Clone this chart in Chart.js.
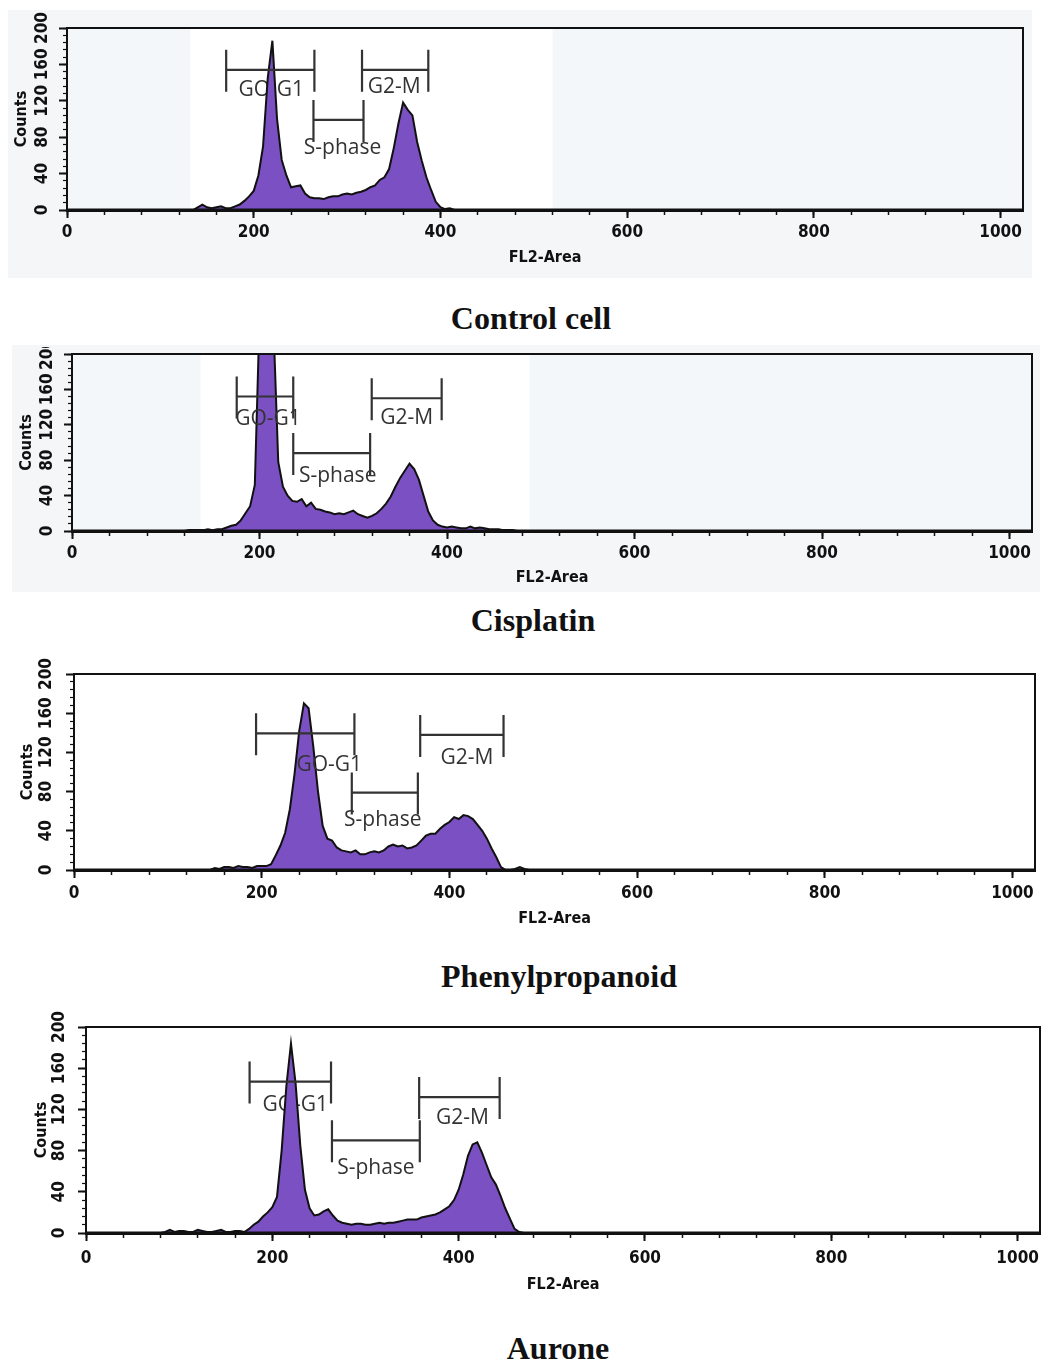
<!DOCTYPE html>
<html>
<head>
<meta charset="utf-8">
<script src="https://cdn.jsdelivr.net/npm/chart.js@4.4.1/dist/chart.umd.min.js"></script>
<style>
html,body{margin:0;padding:0;background:#fff;}
body{width:1042px;height:1360px;position:relative;overflow:hidden;}
.bg{position:absolute;background:#f4f6f8;}
canvas{position:absolute;left:0;}
.ttl{position:absolute;font-family:'Liberation Serif','Times New Roman',serif;font-weight:bold;font-size:32px;color:#111;white-space:nowrap;transform:translate(-50%,-50%);line-height:1;}
</style>
</head>
<body>
<div class="bg" style="left:8px;top:10px;width:1024px;height:268px"></div>
<div class="bg" style="left:12px;top:345px;width:1028px;height:247px"></div>
<canvas id="c1" width="1042" height="290" style="top:0px"></canvas>
<canvas id="c2" width="1042" height="253" style="top:347px"></canvas>
<canvas id="c3" width="1042" height="300" style="top:640px"></canvas>
<canvas id="c4" width="1042" height="305" style="top:995px"></canvas>
<div class="ttl" id="t1" style="left:531px;top:318px"></div>
<div class="ttl" id="t2" style="left:533px;top:620px"></div>
<div class="ttl" id="t3" style="left:559px;top:976px"></div>
<div class="ttl" id="t4" style="left:558px;top:1348px"></div>
<script>
// ---- data ----
const channels = [
  80,85,90,95,100,105,110,115,120,125,130,135,140,145,150,155,160,
  165,170,175,180,185,190,195,200,205,210,215,220,225,230,235,240,245,
  250,255,260,265,270,275,280,285,290,295,300,305,310,315,320,325,330,
  335,340,345,350,355,360,365,370,375,380,385,390,395,400,405,410,415,
  420,425,430,435,440,445,450,455,460,465,470,475,480,485,490,495,500
];
const controlCounts = [
  0,0,0,0,0,0,0,0,0,0,0,0,3,6,3,2,3,
  4,2,2,4,6,10,15,21,38,70,145,186,100,55,38,25,26,
  27,18,14,13,13,12,14,15,15,17,18,17,19,20,22,25,27,
  33,36,45,68,95,118,110,104,75,54,36,22,9,3,1,2,0,
  0,0,0,0,0,0,0,0,0,0,0,0,0,0,0,0,0
];
const cisplatinCounts = [
  0,0,0,0,0,0,0,0,0,1,1,1,1,2,1,2,2,
  4,6,7,12,20,28,52,240,320,300,230,78,50,40,34,33,36,
  28,32,25,24,22,21,19,20,19,21,23,19,17,15,17,20,25,
  31,39,50,60,68,76,70,58,40,22,12,7,5,4,5,4,3,
  3,5,3,4,3,2,2,2,1,1,1,0,0,0,0,0,0
];
const phenylpropanoidCounts = [
  0,0,0,0,0,0,0,0,0,0,0,0,0,0,2,1,3,
  3,2,4,3,3,2,4,4,4,6,15,25,38,62,98,142,170,
  165,126,80,45,32,30,23,20,19,18,20,16,16,18,19,18,20,
  24,26,24,25,22,23,25,30,35,37,37,42,46,49,54,52,56,
  55,52,46,40,32,22,13,3,0,0,1,3,1,0,0,0,0
];
const auroneCounts = [
  0,1,3,1,2,2,1,1,3,2,1,1,2,3,1,1,2,
  2,1,4,8,11,16,20,25,35,80,142,184,145,85,42,24,17,
  18,21,23,17,12,10,9,8,9,9,8,8,9,10,9,10,10,
  11,12,13,13,13,15,16,17,18,20,23,26,32,42,57,75,86,
  88,78,66,54,47,36,24,14,4,1,0,0,0,0,0,0,0
];
const xTickValues = [0, 200, 400, 600, 800, 1000];
const yTickValues = [0, 40, 80, 120, 160, 200];
const gateNames = ['GO-G1', 'S-phase', 'G2-M'];
// gates: [start channel, end channel, level in counts]
const controlGates = [[170.5, 265, 154], [264, 317.6, 99], [316, 387, 154]];
const cisplatinGates = [[175.7, 236, 152], [236, 318, 88], [319.7, 394.3, 150]];
const phenylpropanoidGates = [[194, 298.8, 139.5], [296, 366.4, 79], [368.9, 457.7, 137.8]];
const auroneGates = [[175.6, 263, 147], [264, 358.3, 90], [357.6, 444, 132]];
const panelTitles = ['Control cell', 'Cisplatin', 'Phenylpropanoid', 'Aurone'];

// ---- layout / style ----
const panels = [
  {id:'c1', t:'t1', counts:controlCounts, gates:controlGates, title:panelTitles[0],
   pad:{left:5,right:19,top:28,bottom:23}, yW:62, xH:57, yTitlePad:7, yTickPad:0, xTickPad:4,
   band:[132,520], labelOff:[[1,20],[4,28],[-1,17]], labelsOnTop:false},
  {id:'c2', t:'t2', counts:cisplatinCounts, gates:cisplatinGates, title:panelTitles[1],
   pad:{left:10,right:10,top:7,bottom:13}, yW:62, xH:56, yTitlePad:7, yTickPad:0, xTickPad:4,
   band:[137,488], labelOff:[[3,23],[6,23],[0,20]], labelsOnTop:true},
  {id:'c3', t:'t3', counts:phenylpropanoidCounts, gates:phenylpropanoidGates, title:panelTitles[2],
   pad:{left:12,right:7,top:34,bottom:12}, yW:62, xH:58, yTitlePad:6, yTickPad:3, xTickPad:5,
   band:null, labelOff:[[24,32],[-2,27],[5,23]], labelsOnTop:true},
  {id:'c4', t:'t4', counts:auroneCounts, gates:auroneGates, title:panelTitles[3],
   pad:{left:26,right:2,top:32,bottom:6}, yW:60, xH:61, yTitlePad:6, yTickPad:2, xTickPad:7,
   band:null, labelOff:[[5,23],[0,28],[3,21]], labelsOnTop:false}
];

const FAM = "'DejaVu Sans Condensed','DejaVu Sans',sans-serif";
const tickFont = {family:FAM, size:17, weight:'bold'};
const axisTitleFont = {family:FAM, size:16, weight:'bold'};
const INK = '#111';

function zeroPad(s){ s.paddingLeft=0; s.paddingRight=0; s.paddingTop=0; s.paddingBottom=0; }

function bgPlugin(band){
  return {id:'bgband', beforeDraw(chart){
    if(!band) return;
    const {ctx, chartArea:a, scales:{x}} = chart;
    ctx.save();
    ctx.fillStyle = '#f4f7f9';
    ctx.fillRect(a.left, a.top, a.width, a.height);
    const x1 = x.getPixelForValue(band[0]), x2 = x.getPixelForValue(band[1]);
    ctx.fillStyle = '#ffffff';
    ctx.fillRect(x1, a.top, x2 - x1, a.height);
    ctx.restore();
  }};
}

function gatePlugin(gates, offs, onTop){
  function drawLabels(chart){
    const {ctx, scales:{x, y}} = chart;
    ctx.save();
    ctx.font = "21px 'Open Sans', sans-serif";
    ctx.fillStyle = '#333';
    ctx.textAlign = 'center';
    ctx.textBaseline = 'middle';
    gates.forEach((g, i) => {
      const x1 = x.getPixelForValue(g[0]), x2 = x.getPixelForValue(g[1]);
      const yy = y.getPixelForValue(g[2]);
      ctx.fillText(gateNames[i], (x1 + x2) / 2 + offs[i][0], yy + offs[i][1]);
    });
    ctx.restore();
  }
  return {
    id:'gates',
    beforeDatasetsDraw(chart){ if (!onTop) drawLabels(chart); },
    afterDatasetsDraw(chart){
      if (onTop) drawLabels(chart);
      const {ctx, scales:{x, y}} = chart;
      ctx.save();
      ctx.strokeStyle = '#333';
      ctx.lineWidth = 2.2;
      gates.forEach(g => {
        const x1 = x.getPixelForValue(g[0]), x2 = x.getPixelForValue(g[1]);
        const yy = y.getPixelForValue(g[2]);
        ctx.beginPath();
        ctx.moveTo(x1, yy); ctx.lineTo(x2, yy);
        ctx.moveTo(x1, yy - 20); ctx.lineTo(x1, yy + 22);
        ctx.moveTo(x2, yy - 20); ctx.lineTo(x2, yy + 22);
        ctx.stroke();
      });
      ctx.restore();
    }
  };
}

const framePlugin = {id:'frame', afterDraw(chart){
  const {ctx, chartArea:a} = chart;
  ctx.save();
  ctx.strokeStyle = INK;
  ctx.lineWidth = 2;
  ctx.strokeRect(a.left, a.top, a.right - a.left, a.bottom - a.top);
  ctx.beginPath();
  ctx.lineWidth = 3;
  ctx.moveTo(a.left, a.bottom); ctx.lineTo(a.right, a.bottom);
  ctx.stroke();
  ctx.restore();
}};

panels.forEach(p => {
  document.getElementById(p.t).textContent = p.title;
  new Chart(document.getElementById(p.id), {
    type:'line',
    data:{datasets:[{
      data: channels.map((c, i) => ({x:c, y:p.counts[i]})),
      fill:'origin',
      backgroundColor:'#7b50c2',
      borderColor:INK,
      borderWidth:2,
      pointRadius:0,
      tension:0
    }]},
    options:{
      responsive:false, animation:false, devicePixelRatio:1, events:[],
      layout:{padding:p.pad},
      plugins:{legend:{display:false}, tooltip:{enabled:false}},
      scales:{
        x:{type:'linear', position:'bottom', weight:1, min:0, max:1024,
          afterBuildTicks: s => { s.ticks = xTickValues.map(v => ({value:v})); },
          afterFit: s => { s.height = p.xH; zeroPad(s); },
          ticks:{autoSkip:false, maxRotation:0, minRotation:0, padding:p.xTickPad, font:tickFont, color:INK,
                 includeBounds:false, callback: v => String(v)},
          grid:{drawOnChartArea:false, drawTicks:true, tickLength:8, tickWidth:2, tickColor:INK, color:INK},
          border:{display:true, color:INK, width:3},
          title:{display:true, text:'FL2-Area', font:axisTitleFont, color:INK, padding:{top:0, bottom:0}}
        },
        xm:{type:'linear', position:'bottom', weight:0, min:0, max:1024,
          afterFit: s => { s.height = 0; zeroPad(s); },
          ticks:{display:false, stepSize:40, includeBounds:false},
          grid:{drawOnChartArea:false, drawTicks:true, tickLength:5, tickWidth:1.5, tickColor:INK, color:INK},
          border:{display:false}
        },
        y:{type:'linear', position:'left', weight:1, min:0, max:200,
          afterBuildTicks: s => { s.ticks = yTickValues.map(v => ({value:v})); },
          afterFit: s => { s.width = p.yW; zeroPad(s); },
          ticks:{autoSkip:false, minRotation:90, maxRotation:90, crossAlign:'center', padding:p.yTickPad,
                 font:tickFont, color:INK, includeBounds:false, callback: v => String(v)},
          grid:{drawOnChartArea:false, drawTicks:true, tickLength:8, tickWidth:2, tickColor:INK, color:INK},
          border:{display:true, color:INK, width:2},
          title:{display:true, text:'Counts', font:axisTitleFont, color:INK, padding:{top:p.yTitlePad, bottom:0}}
        },
        ym:{type:'linear', position:'left', weight:0, min:0, max:200,
          afterFit: s => { s.width = 0; zeroPad(s); },
          ticks:{display:false, stepSize:8, includeBounds:false},
          grid:{drawOnChartArea:false, drawTicks:true, tickLength:4, tickWidth:1.2, tickColor:INK, color:INK},
          border:{display:false}
        }
      }
    },
    plugins:[bgPlugin(p.band), gatePlugin(p.gates, p.labelOff, p.labelsOnTop), framePlugin]
  });
});
</script>
</body>
</html>
